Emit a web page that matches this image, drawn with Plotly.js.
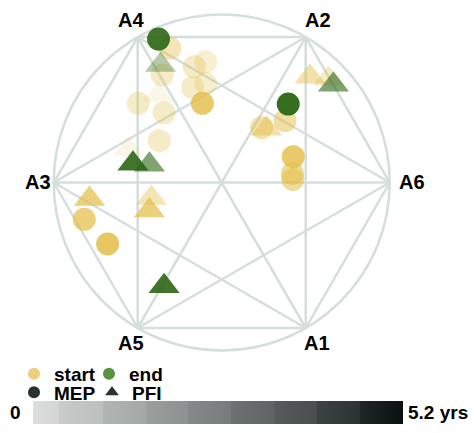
<!DOCTYPE html>
<html><head><meta charset="utf-8">
<script src="https://cdn.plot.ly/plotly-3.0.1.min.js"></script>
<style>html,body{margin:0;padding:0;background:#fff;}</style>
</head><body><div id="chart" style="width:474px;height:433px;"></div>
<script>
// ---- data ----
const vertexLabels = ['A6','A2','A4','A3','A5','A1'];
const vertexAngles = [0, 60, 120, 180, 240, 300];

// MEP (circles), start (yellow)
const mepStartX = [-0.308,-0.095,-0.163,-0.354,-0.173,-0.095,-0.115,-0.496,-0.343,-0.371, 0.377, 0.238, 0.426, 0.421, 0.423,-0.818,-0.679];
const mepStartY = [ 0.799, 0.719, 0.689, 0.640, 0.567, 0.590, 0.471, 0.471, 0.415, 0.249, 0.368, 0.326, 0.154, 0.054, 0.018,-0.219,-0.366];
const mepStartAlpha = [0.4,0.25,0.3,0.3,0.3,0.25,0.8,0.3,0.3,0.3,0.5,0.45,0.8,0.55,0.55,0.7,0.85];
// MEP (circles), end (green)
const mepEndX = [-0.376, 0.396];
const mepEndY = [ 0.854, 0.467];
const mepEndAlpha = [0.9, 0.95];
// PFI (triangles), start (yellow)
const pfiStartX = [-0.379,-0.555,-0.787,-0.418,-0.430, 0.526, 0.636, 0.267];
const pfiStartY = [ 0.521, 0.199,-0.098,-0.092,-0.166, 0.630, 0.618, 0.320];
const pfiStartAlpha = [0.12,0.12,0.7,0.4,0.7,0.45,0.3,0.45];
// PFI (triangles), end (green)
const pfiEndX = [-0.364,-0.528,-0.430,-0.343, 0.665];
const pfiEndY = [ 0.700, 0.112, 0.106,-0.618, 0.582];
const pfiEndAlpha = [0.35,0.9,0.6,0.9,0.6];

const legendNames = ['start','end','MEP','PFI'];
const timeMin = 0, timeMax = 5.2;
const timeLabels = ['0','5.2 yrs'];

// ---- styles ----
const YEL = '#e2bd45', GRN = '#2b6614', GRID = '#d4dedb', DARK = '#2a3131';
const FONT = {family:'"Liberation Sans", Arial, sans-serif', size:20, weight:'bold', color:'#000'};
const labelShift = {A6:[22,1],A2:[12,17.5],A4:[-7,17.5],A3:[-16,1],A5:[-7,-14.5],A1:[11,-14.5]};

const vx = vertexAngles.map(a => Math.cos(a*Math.PI/180));
const vy = vertexAngles.map(a => Math.sin(a*Math.PI/180));
const ex = [], ey = [];
for (let i=0;i<6;i++) for (let j=i+1;j<6;j++){ ex.push(vx[i],vx[j],null); ey.push(vy[i],vy[j],null); }

const traces = [];
traces.push({x:ex,y:ey,mode:'lines',line:{color:GRID,width:2.5},hoverinfo:'skip',showlegend:false});
const CS = 23, TS = 27;
traces.push({x:mepStartX,y:mepStartY,mode:'markers',showlegend:false,
  marker:{symbol:'circle',size:CS,color:YEL,opacity:mepStartAlpha,line:{width:0}}});
traces.push({x:pfiStartX,y:pfiStartY,mode:'markers',showlegend:false,
  marker:{symbol:'triangle-up',size:TS,color:YEL,opacity:pfiStartAlpha,line:{width:0}}});
traces.push({x:mepEndX,y:mepEndY,mode:'markers',showlegend:false,
  marker:{symbol:'circle',size:CS,color:GRN,opacity:mepEndAlpha,line:{width:0}}});
traces.push({x:pfiEndX,y:pfiEndY,mode:'markers',showlegend:false,
  marker:{symbol:'triangle-up',size:TS,color:GRN,opacity:pfiEndAlpha,line:{width:0}}});
// legend entries
const legSpec = [
  {name:legendNames[0],symbol:'circle',color:'#ebcf7c',legend:'legend'},
  {name:legendNames[1],symbol:'circle',color:'#5a9142',legend:'legend'},
  {name:legendNames[2],symbol:'circle',color:DARK,legend:'legend2'},
  {name:legendNames[3],symbol:'triangle-up',color:DARK,legend:'legend2'}];
legSpec.forEach(s => traces.push({x:[null],y:[null],mode:'markers',name:s.name,legend:s.legend,
  marker:{symbol:s.symbol,size:12,color:s.color,line:{width:0}},hoverinfo:'skip'}));
// colorbar
const bandEdges = [0,0.0703,0.1884,0.3054,0.4189,0.5351,0.6514,0.7676,0.8838,1];
const bandColors = [['#dcdfde','#d2d5d4'],['#c8cbca','#bbbfbe'],['#b1b5b4','#a3a8a7'],['#9a9f9e','#8c9291'],
  ['#848a89','#767c7b'],['#6c7271','#5e6564'],['#555c5b','#474e4d'],['#3b4342','#2c3433'],['#1f2726','#0a1211']];
const cs = [];
bandColors.forEach((c,i)=>{cs.push([bandEdges[i],c[0]]);cs.push([bandEdges[i+1],c[1]]);});
traces.push({x:[null],y:[null],mode:'markers',showlegend:false,hoverinfo:'skip',
  marker:{color:[timeMin],cmin:timeMin,cmax:timeMax,colorscale:cs,showscale:true,
    colorbar:{orientation:'h',x:218/474,xanchor:'center',y:9.5/433,yanchor:'bottom',
      len:370,lenmode:'pixels',thickness:23,thicknessmode:'pixels',outlinewidth:0,
      showticklabels:false,ticks:'',xpad:0,ypad:0}}});

const ann = vertexLabels.map((t,i)=>({x:vx[i],y:vy[i],text:t,showarrow:false,
  xshift:labelShift[t][0],yshift:labelShift[t][1],font:FONT,xanchor:'center',yanchor:'middle'}));
ann.push({xref:'paper',yref:'paper',x:15.5/474,y:(433-412)/433,text:timeLabels[0],showarrow:false,
  xanchor:'center',yanchor:'middle',font:Object.assign({},FONT,{size:19})});
ann.push({xref:'paper',yref:'paper',x:406/474,y:(433-412)/433,text:timeLabels[1],showarrow:false,
  xanchor:'left',yanchor:'middle',font:Object.assign({},FONT,{size:19})});

const LFONT = {family:'"Liberation Sans", Arial, sans-serif', size:19, weight:'bold', color:'#000'};
const layout = {
  width:474,height:433,margin:{l:0,r:0,t:0,b:0},paper_bgcolor:'#fff',plot_bgcolor:'#fff',
  xaxis:{range:[-1.3196,1.5018],visible:false,fixedrange:true},
  yaxis:{range:[-1.491,1.0863],visible:false,fixedrange:true},
  shapes:[{type:'circle',xref:'x',yref:'y',x0:-1,x1:1,y0:-1,y1:1,line:{color:GRID,width:2.5},layer:'below'}],
  annotations:ann,
  legend:{orientation:'h',x:14/474,xanchor:'left',y:(433-374)/433,yanchor:'middle',
    bgcolor:'rgba(0,0,0,0)',font:LFONT,entrywidth:30,itemwidth:30},
  legend2:{orientation:'h',x:14/474,xanchor:'left',y:(433-392.5)/433,yanchor:'middle',
    bgcolor:'rgba(0,0,0,0)',font:LFONT,entrywidth:33,itemwidth:30},
  showlegend:true
};
Plotly.newPlot('chart',traces,layout,{displayModeBar:false,staticPlot:true});
</script></body></html>
